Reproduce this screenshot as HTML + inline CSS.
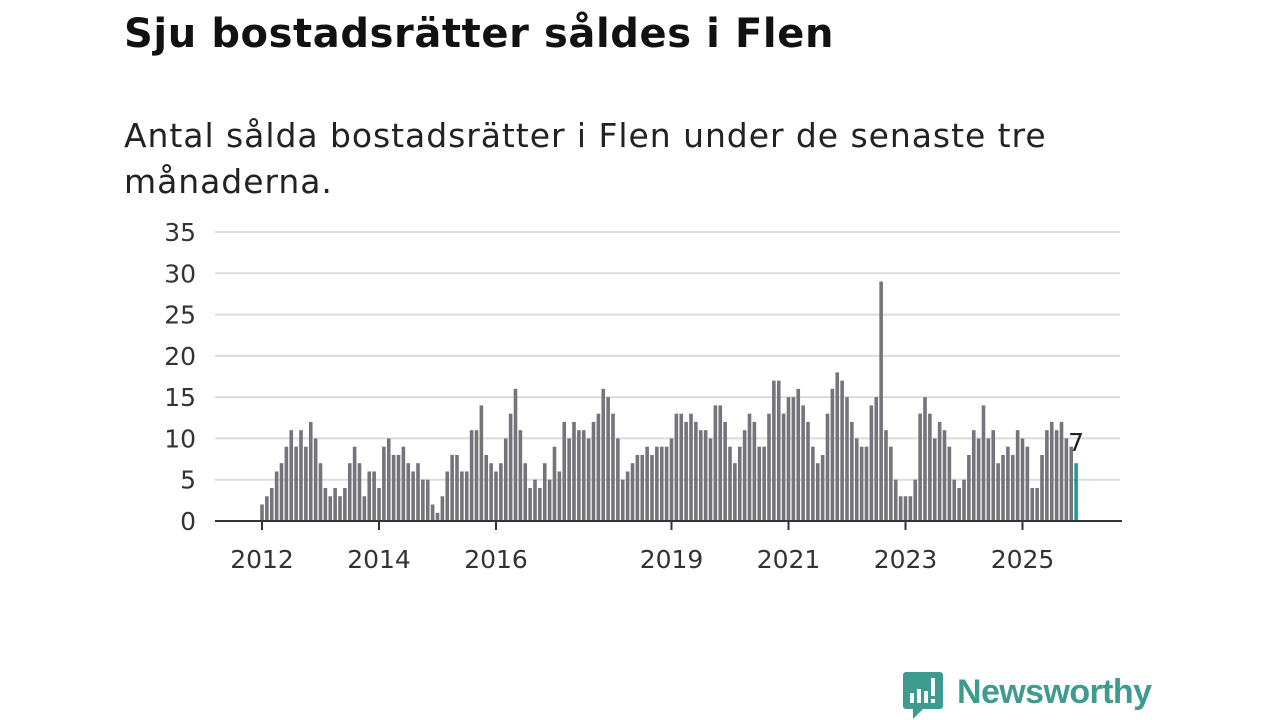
<!DOCTYPE html>
<html><head><meta charset="utf-8"><style>
body{margin:0;width:1280px;height:720px;background:#fff;overflow:hidden;font-family:"DejaVu Sans",sans-serif;}
#title{position:absolute;left:124px;top:11px;font-size:40px;font-weight:bold;color:#111;margin:0;white-space:nowrap;letter-spacing:0.6px;}
#sub{position:absolute;left:124px;top:113px;font-size:33px;line-height:46px;color:#222;margin:0;white-space:nowrap;letter-spacing:0.95px;}
svg{position:absolute;left:0;top:0;}
</style></head><body>
<h1 id="title">Sju bostadsrätter såldes i Flen</h1>
<p id="sub">Antal sålda bostadsrätter i Flen under de senaste tre<br>månaderna.</p>
<svg id="chart" width="1280" height="720"></svg>
<script>
const values=[2,3,4,6,7,9,11,9,11,9,12,10,7,4,3,4,3,4,7,9,7,3,6,6,4,9,10,8,8,9,7,6,7,5,5,2,1,3,6,8,8,6,6,11,11,14,8,7,6,7,10,13,16,11,7,4,5,4,7,5,9,6,12,10,12,11,11,10,12,13,16,15,13,10,5,6,7,8,8,9,8,9,9,9,10,13,13,12,13,12,11,11,10,14,14,12,9,7,9,11,13,12,9,9,13,17,17,13,15,15,16,14,12,9,7,8,13,16,18,17,15,12,10,9,9,14,15,29,11,9,5,3,3,3,5,13,15,13,10,12,11,9,5,4,5,8,11,10,14,10,11,7,8,9,8,11,10,9,4,4,8,11,12,11,12,10,9,7];
const startYear=2012;
const yTicks=[0,5,10,15,20,25,30,35];
const xTickYears=[2012,2014,2016,2019,2021,2023,2025];
const NS="http://www.w3.org/2000/svg";
const svg=document.getElementById('chart');
const y=v=>521-v*(289/35);
const xm=i=>262+i*4.875;
const xy=yr=>xm((yr-startYear)*12);
function mk(t,a,txt){const e=document.createElementNS(NS,t);for(const k in a)e.setAttribute(k,a[k]);if(txt!==undefined)e.textContent=txt;svg.appendChild(e);return e;}
yTicks.forEach(t=>{
 if(t>0){const g=mk('line',{x1:215,x2:1120,y1:y(t),y2:y(t),stroke:'#dcdcdc','stroke-width':2});
 
 }
 const l=mk('text',{x:196,y:y(t)+9,'text-anchor':'end','font-size':25,fill:'#333','font-family':'DejaVu Sans, sans-serif'},t);
 
 
});
values.forEach((v,i)=>{
 const last=i===values.length-1;
 const r=mk('rect',{x:xm(i)-1.8,y:y(v),width:3.6,height:521-y(v),fill:last?'#1a9e94':'#75747a'});
 
 
});
const ax=mk('line',{x1:215,x2:1122,y1:521,y2:521,stroke:'#333','stroke-width':2});


xTickYears.forEach(yr=>{
 const x=xy(yr);
 const tk=mk('line',{x1:x,x2:x,y1:521,y2:530,stroke:'#333','stroke-width':2});
 
 
 const l=mk('text',{x:x,y:568,'text-anchor':'middle','font-size':25,fill:'#333','font-family':'DejaVu Sans, sans-serif'},yr);
 
 
});
const li=values.length-1;
const vl=mk('text',{x:xm(li),y:y(values[li])-12,'text-anchor':'middle','font-size':25,fill:'#222','font-family':'DejaVu Sans, sans-serif'},values[li]);


</script>
<svg width="1280" height="720" style="pointer-events:none">
<path d="M906 672 h34 a3 3 0 0 1 3 3 v31 a3 3 0 0 1 -3 3 h-17 l-10 10 v-10 h-7 a3 3 0 0 1 -3 -3 v-31 a3 3 0 0 1 3 -3z" fill="#3e9b90"/>
<rect x="910" y="693" width="4" height="10" fill="#fff"/><rect x="917" y="689" width="4" height="14" fill="#fff"/><rect x="924" y="691" width="4" height="12" fill="#fff"/><rect x="931" y="678" width="4" height="18" fill="#fff"/><rect x="931" y="699" width="4" height="4" fill="#fff"/>
<text x="957" y="703" font-size="34" font-weight="bold" fill="#3e9b90" font-family="Liberation Sans, sans-serif" textLength="195">Newsworthy</text>
</svg>
</body></html>
